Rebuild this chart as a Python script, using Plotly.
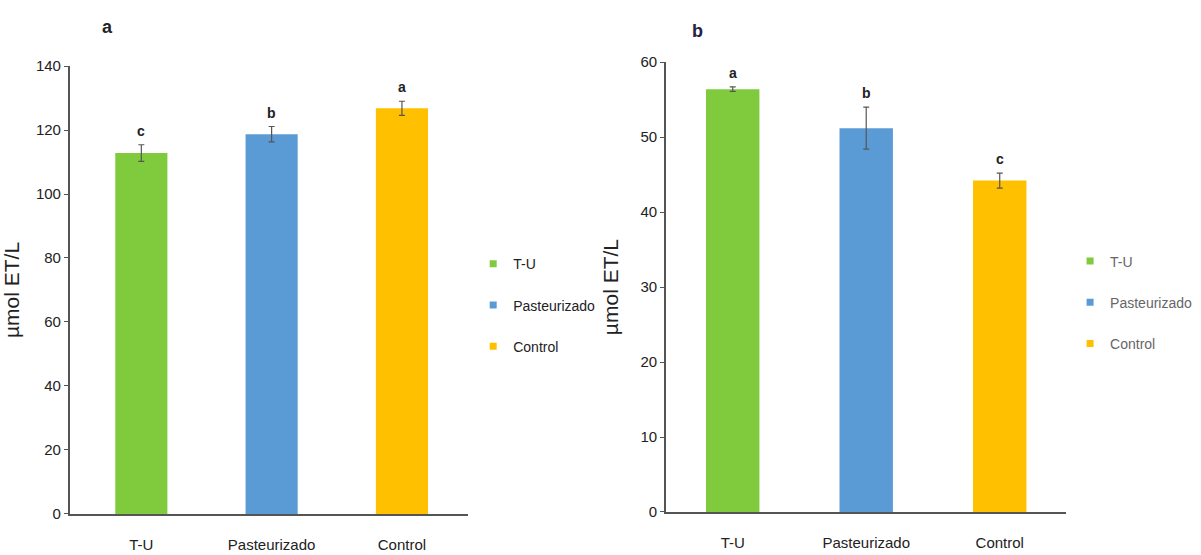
import plotly.graph_objects as go

categories = ["T-U", "Pasteurizado", "Control"]
colors = ["#80CA3E", "#5B9BD5", "#FFC000"]

values_a = [112.8, 118.7, 126.8]
errors_a = [2.6, 2.4, 2.2]
letters_a = ["c", "b", "a"]

values_b = [56.4, 51.2, 44.2]
errors_b = [0.3, 2.8, 1.0]
letters_b = ["a", "b", "c"]

ticks_a = [0, 20, 40, 60, 80, 100, 120, 140]
ticks_b = [0, 10, 20, 30, 40, 50, 60]

FONT = "Liberation Sans, Arial, sans-serif"

fig = go.Figure()
annotations = []

def add_panel(values, errors, letters, xa, ya, legend, xref, yref):
    for i, cat in enumerate(categories):
        fig.add_trace(go.Bar(
            x=[cat], y=[values[i]], name=cat,
            marker=dict(color=colors[i], line=dict(width=0)),
            width=0.4,
            error_y=dict(type="data", array=[errors[i]], color="#555555",
                         thickness=1.2, width=3),
            xaxis=xa, yaxis=ya, showlegend=False,
        ))
        # legend entry (small square marker)
        fig.add_trace(go.Scatter(
            x=[None], y=[None], name=cat, mode="markers",
            marker=dict(symbol="square", size=7, color=colors[i]),
            xaxis=xa, yaxis=ya, legend=legend,
            legendgroup=legend + cat, showlegend=True,
        ))
        annotations.append(dict(
            text="<b>" + letters[i] + "</b>", x=cat, y=values[i] + errors[i],
            xref=xref, yref=yref, showarrow=False, yanchor="bottom", yshift=4,
            font=dict(family=FONT, size=14, color="#222222"),
        ))

add_panel(values_a, errors_a, letters_a, "x", "y", "legend", "x", "y")
add_panel(values_b, errors_b, letters_b, "x2", "y2", "legend2", "x2", "y2")

axis_common = dict(showgrid=False, zeroline=False, showline=True,
                   linecolor="#555555", linewidth=1.5, automargin=False,
                   tickfont=dict(family=FONT, size=15, color="#222222"))

xaxis_ticks = dict(ticks="outside", ticklen=16, tickcolor="rgba(0,0,0,0)")

annotations += [
    dict(text="<b>a</b>", x=100 / 1201, y=1 - 27 / 555, xref="paper", yref="paper",
         yanchor="middle", showarrow=False,
         font=dict(family=FONT, size=18, color="#222222")),
    dict(text="<b>b</b>", x=697 / 1201, y=1 - 31 / 555, xref="paper", yref="paper",
         yanchor="middle", showarrow=False,
         font=dict(family=FONT, size=18, color="#222244")),
]

fig.update_layout(
    width=1201, height=555,
    margin=dict(l=0, r=0, t=0, b=0),
    paper_bgcolor="white", plot_bgcolor="white",
    barmode="overlay",
    xaxis=dict(domain=[0.058, 0.39], type="category", categoryorder="array",
               categoryarray=categories, range=[-0.55, 2.51],
               anchor="y", **xaxis_ticks, **axis_common),
    yaxis=dict(domain=[0.074, 0.881], range=[0, 140], tickvals=ticks_a,
               ticks="outside", ticklen=4, tickcolor="#555555", anchor="x",
               title=dict(text="µmol ET/L", standoff=18,
                          font=dict(family=FONT, size=21, color="#222222")),
               **axis_common),
    xaxis2=dict(domain=[0.5545, 0.888], type="category", categoryorder="array",
                categoryarray=categories, range=[-0.5, 2.5],
                anchor="y2", **xaxis_ticks, **axis_common),
    yaxis2=dict(domain=[0.0775, 0.888], range=[0, 60], tickvals=ticks_b,
                ticks="outside", ticklen=4, tickcolor="#555555", anchor="x2",
                title=dict(text="µmol ET/L", standoff=16,
                           font=dict(family=FONT, size=21, color="#222222")),
                **axis_common),
    legend=dict(x=0.394, y=0.45, xanchor="left", yanchor="middle",
                font=dict(family=FONT, size=14, color="#222222"),
                tracegroupgap=20, itemwidth=30, bgcolor="rgba(0,0,0,0)"),
    legend2=dict(x=0.891, y=0.455, xanchor="left", yanchor="middle",
                 font=dict(family=FONT, size=14, color="#666666"),
                 tracegroupgap=20, itemwidth=30, bgcolor="rgba(0,0,0,0)"),
    annotations=annotations,
)

fig.write_html("out.html")
